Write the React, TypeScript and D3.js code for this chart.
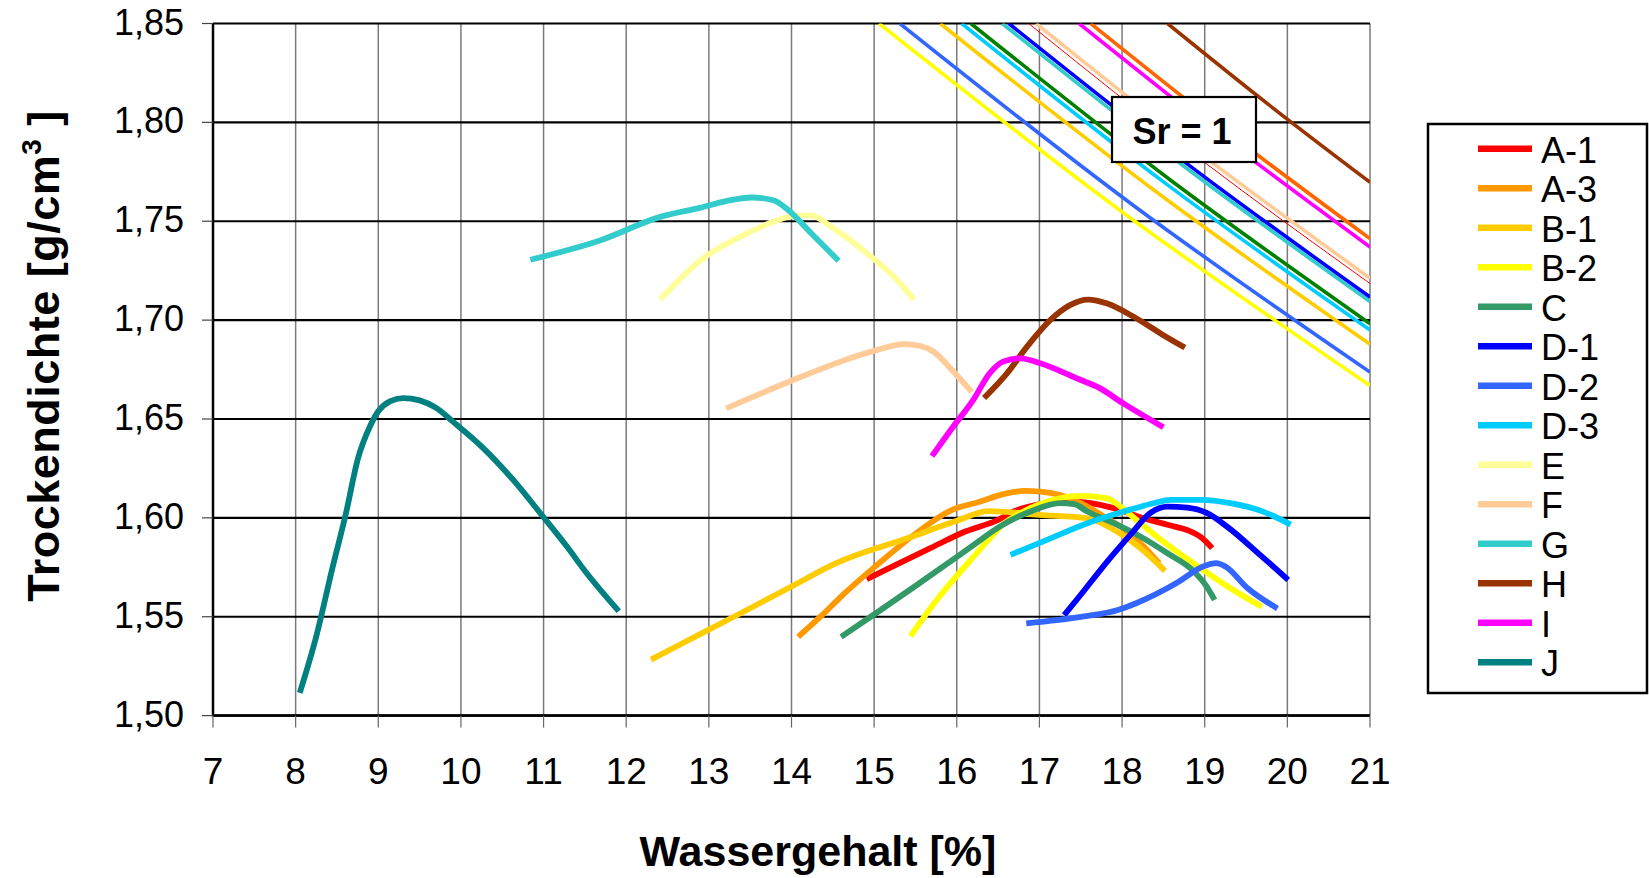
import React from 'react';
import * as d3 from 'd3';

// ---- axis ticks ----
const xTickValues = [7, 8, 9, 10, 11, 12, 13, 14, 15, 16, 17, 18, 19, 20, 21];
const yTickValues = [1.5, 1.55, 1.6, 1.65, 1.7, 1.75, 1.8, 1.85];
const yTickLabels = ['1,50', '1,55', '1,60', '1,65', '1,70', '1,75', '1,80', '1,85'];

// ---- Proctor curves [Wassergehalt %, Trockendichte g/cm3] ----
const A1 = [[14.91,1.569],[15.3,1.577],[15.68,1.5847],[16.11,1.5932],[16.5,1.599],[16.69,1.6032],[17.01,1.6069],[17.35,1.6085],[17.62,1.6074],[17.9,1.6049],[18.26,1.5998],[18.55,1.5965],[18.83,1.5931],[18.97,1.5897],[19.09,1.5847]];
const A3 = [[14.08,1.5398],[14.35,1.55],[14.6,1.5602],[15.03,1.576],[15.46,1.5907],[15.95,1.6042],[16.29,1.6083],[16.53,1.6116],[16.81,1.6136],[17.01,1.6133],[17.25,1.6116],[17.46,1.6083],[17.75,1.6015],[18.0,1.595],[18.25,1.586],[18.45,1.577]];
const B1 = [[12.3,1.5283],[12.9,1.5413],[13.5,1.5543],[14.0,1.5653],[14.54,1.5771],[15.41,1.5898],[16.0,1.5985],[16.38,1.6034],[17.0,1.6015],[17.58,1.5998],[17.9,1.594],[18.22,1.5847],[18.52,1.5732]];
const B2 = [[15.44,1.5402],[15.79,1.5602],[16.17,1.5788],[16.44,1.5915],[16.53,1.5955],[16.89,1.6049],[17.25,1.6099],[17.5,1.6111],[17.82,1.6099],[17.98,1.6057],[18.22,1.5973],[18.55,1.5864],[18.95,1.5746],[19.31,1.5644],[19.69,1.5551]];
const C = [[14.6,1.5398],[15.03,1.552],[15.46,1.5644],[16.01,1.5805],[16.29,1.5889],[16.49,1.5948],[16.89,1.6032],[17.25,1.6074],[17.42,1.6069],[17.58,1.6032],[17.9,1.5973],[18.22,1.5906],[18.55,1.5821],[18.87,1.5729],[19.02,1.5655],[19.12,1.5585]];
const D1 = [[17.3,1.5508],[17.5,1.5611],[17.82,1.5779],[18.1,1.5914],[18.34,1.6024],[18.55,1.6057],[18.79,1.6052],[19.03,1.6024],[19.27,1.5956],[19.69,1.5805],[20.01,1.5686]];
const D2 = [[16.84,1.5466],[17.52,1.55],[17.95,1.5534],[18.17,1.5568],[18.66,1.567],[18.98,1.5754],[19.14,1.5771],[19.25,1.5754],[19.52,1.5644],[19.88,1.5542]];
const D3 = [[16.65,1.5813],[17.09,1.5889],[17.58,1.5973],[18.02,1.6032],[18.38,1.6074],[18.59,1.6091],[18.95,1.6091],[19.31,1.6074],[19.69,1.6034],[20.04,1.5966]];
const E = [[12.41,1.7104],[12.9,1.7303],[13.46,1.7438],[13.78,1.7497],[14.07,1.753],[14.23,1.753],[14.51,1.7463],[14.99,1.7311],[15.24,1.7219],[15.48,1.7104]];
const F = [[13.21,1.6554],[13.54,1.6613],[14.02,1.6697],[14.59,1.679],[15.03,1.6848],[15.36,1.6879],[15.56,1.6869],[15.72,1.684],[15.96,1.6739],[16.18,1.6638]];
const G = [[10.84,1.7305],[11.69,1.7404],[12.41,1.7522],[12.9,1.7569],[13.22,1.7603],[13.52,1.762],[13.78,1.7606],[13.94,1.7564],[14.25,1.7434],[14.57,1.73]];
const H = [[16.33,1.6606],[16.61,1.6732],[16.85,1.6866],[17.13,1.7],[17.37,1.7076],[17.59,1.7104],[17.82,1.7084],[18.14,1.7017],[18.5,1.6924],[18.76,1.6861]];
const I = [[15.7,1.6312],[15.96,1.6463],[16.2,1.6597],[16.4,1.6732],[16.56,1.679],[16.77,1.6807],[17.01,1.6782],[17.45,1.6706],[17.73,1.6656],[18.01,1.658],[18.5,1.6458]];
const J = [[8.05,1.5115],[8.25,1.5401],[8.45,1.5755],[8.61,1.6025],[8.75,1.6294],[8.9,1.6463],[9.0,1.6539],[9.14,1.6589],[9.3,1.6606],[9.5,1.6594],[9.7,1.6556],[9.9,1.6488],[10.27,1.6353],[10.63,1.6193],[10.99,1.6008],[11.28,1.5856],[11.52,1.5721],[11.91,1.5528]];

// ---- Saturation lines (Sr = 1) ----
const srA1 = [[16.87,1.85],[18.93,1.7819],[21,1.7185]];
const srA3 = [[17.62,1.85],[19.31,1.794],[21,1.7412]];
const srB1 = [[15.8,1.85],[18.4,1.7653],[21,1.6878]];
const srB2 = [[15.06,1.85],[18.03,1.7538],[21,1.6669]];
const srC = [[16.17,1.85],[18.58,1.771],[21,1.6982]];
const srD1 = [[16.63,1.85],[18.82,1.778],[21,1.7117]];
const srD2 = [[15.31,1.85],[18.15,1.7576],[21,1.6737]];
const srD3 = [[16.06,1.85],[18.53,1.769],[21,1.695]];
const srF = [[16.96,1.85],[18.98,1.7832],[21,1.7212]];
const srG = [[16.55,1.85],[18.78,1.7768],[21,1.7094]];
const srH = [[18.55,1.85],[19.77,1.8091],[21,1.7697]];
const srI = [[17.48,1.85],[19.24,1.7918],[21,1.737]];

const seriesNames = ['A-1','A-3','B-1','B-2','C','D-1','D-2','D-3','E','F','G','H','I','J'];
const seriesColors = ['#FF0000','#FF9900','#FFCC00','#FFFF00','#339966','#0000FF','#3366FF','#00CCFF','#FFFF99','#FFCC99','#33CCCC','#993300','#FF00FF','#008080'];
const seriesData = [A1, A3, B1, B2, C, D1, D2, D3, E, F, G, H, I, J];

const srData = [srB2, srD2, srB1, srD3, srC, srG, srD1, srF, srA1, srI, srA3, srH];
const srColors = ['#FFFF00','#3366FF','#FFCC00','#00CCFF','#008000','#33CCCC','#0000FF','#FFCC99','#FF0000','#FF00FF','#FF6600','#993300'];
const srWidths = [3.6,3.6,3.6,3.6,3.6,3.6,3.6,3.6,1,3.6,3.6,3.6];

const FONT = '"Liberation Sans", Arial, Helvetica, sans-serif';

export default function App() {
  const left = 213, right = 1370, top = 23.5, bottom = 715.6;
  const x = d3.scaleLinear().domain([7, 21]).range([left, right]);
  const y = d3.scaleLinear().domain([1.5, 1.85]).range([bottom, top]);
  const curveLine = d3.line<number[]>().x(d => x(d[0])).y(d => y(d[1])).curve(d3.curveMonotoneX);
  const srLine = d3.line<number[]>().x(d => x(d[0])).y(d => y(d[1])).curve(d3.curveNatural);

  const legendX = 1428, legendY = 124, legendW = 219, legendH = 569;
  const legendRow0 = 148.8, legendStep = 39.5;

  return (
    <svg width={1649} height={878} style={{ position: 'absolute', left: 0, top: 0, background: '#fff' }} fontFamily={FONT}>
      <defs>
        <clipPath id="plotClip">
          <rect x={left} y={top} width={right - left} height={bottom - top} />
        </clipPath>
      </defs>
      <rect x={0} y={0} width={1649} height={878} fill="#fff" />

      {/* vertical gridlines */}
      {xTickValues.slice(1).map(v => (
        <line key={'vx' + v} x1={x(v)} x2={x(v)} y1={top} y2={bottom} stroke="#7a7a7a" strokeWidth={1.5} />
      ))}
      {/* horizontal gridlines */}
      {yTickValues.map(v => (
        <line key={'hy' + v} x1={left} x2={right} y1={y(v)} y2={y(v)} stroke="#000" strokeWidth={2.2} />
      ))}
      {/* axes */}
      <line x1={left} x2={left} y1={top} y2={bottom + 1} stroke="#000" strokeWidth={2.5} />
      <line x1={left} x2={right} y1={bottom} y2={bottom} stroke="#000" strokeWidth={2.5} />
      {/* ticks */}
      {yTickValues.map(v => (
        <line key={'ty' + v} x1={left - 11} x2={left} y1={y(v)} y2={y(v)} stroke="#444" strokeWidth={1.2} />
      ))}
      {xTickValues.map(v => (
        <line key={'tx' + v} x1={x(v)} x2={x(v)} y1={bottom} y2={bottom + 12} stroke="#666" strokeWidth={1.2} />
      ))}

      {/* tick labels */}
      {yTickValues.map((v, i) => (
        <text key={'ly' + v} x={184} y={y(v) + 11} textAnchor="end" fontSize={36} fill="#000">{yTickLabels[i]}</text>
      ))}
      {xTickValues.map(v => (
        <text key={'lx' + v} x={x(v)} y={784} textAnchor="middle" fontSize={37} fill="#000">{v}</text>
      ))}

      {/* saturation lines */}
      <g clipPath="url(#plotClip)">
        {srData.map((d, i) => (
          <path key={'sr' + i} d={srLine(d) || ''} fill="none" stroke={srColors[i]} strokeWidth={srWidths[i]} />
        ))}
      </g>

      {/* data curves */}
      <g clipPath="url(#plotClip)">
        {seriesData.map((d, i) => (
          <path key={'s' + i} d={curveLine(d) || ''} fill="none" stroke={seriesColors[i]} strokeWidth={5.8} strokeLinejoin="round" strokeLinecap="butt" />
        ))}
      </g>

      {/* Sr = 1 label */}
      <rect x={1112} y={97} width={144} height={65} fill="#fff" stroke="#000" strokeWidth={2.2} />
      <text x={1182} y={144} textAnchor="middle" fontSize={36} fontWeight="bold" fill="#000">Sr = 1</text>

      {/* axis titles */}
      <text x={818} y={866} textAnchor="middle" fontSize={43} fontWeight="bold" fill="#000">Wassergehalt [%]</text>
      <text transform="translate(59,356) rotate(-90)" textAnchor="middle" fontSize={45} fontWeight="bold" letterSpacing={0.5} fill="#000">
        Trockendichte [g/cm<tspan fontSize={28} dy={-18}>3</tspan><tspan dy={18}> ]</tspan>
      </text>

      {/* legend */}
      <rect x={legendX} y={legendY} width={legendW} height={legendH} fill="#fff" stroke="#000" strokeWidth={2.5} />
      {seriesNames.map((n, i) => {
        const ly = legendRow0 + i * legendStep;
        return (
          <g key={'lg' + n}>
            <line x1={1478} x2={1532} y1={ly} y2={ly} stroke={seriesColors[i]} strokeWidth={6.5} />
            <text x={1541} y={ly + 14} fontSize={36} fill="#000">{n}</text>
          </g>
        );
      })}
    </svg>
  );
}
